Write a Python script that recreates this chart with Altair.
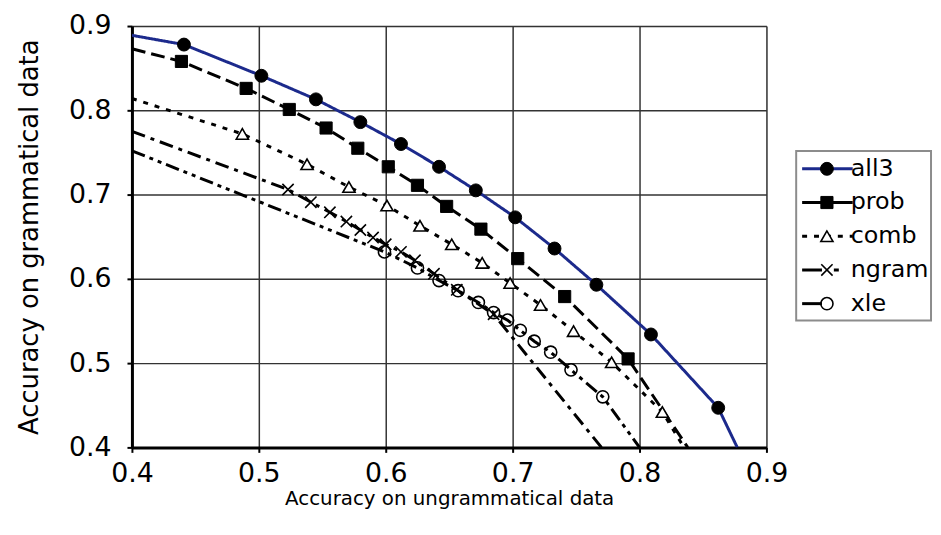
import altair as alt
import pandas as pd

SERIES = ["all3", "prob", "comb", "ngram", "xle"]

ALL3_X = [0.441, 0.502, 0.545, 0.580, 0.612, 0.642, 0.671, 0.702, 0.733, 0.766, 0.809, 0.862]
ALL3_Y = [0.878, 0.841, 0.813, 0.786, 0.760, 0.733, 0.705, 0.673, 0.636, 0.593, 0.534, 0.447]
PROB_X = [0.439, 0.490, 0.524, 0.553, 0.578, 0.602, 0.625, 0.648, 0.675, 0.704, 0.741, 0.791]
PROB_Y = [0.858, 0.826, 0.801, 0.779, 0.755, 0.733, 0.711, 0.686, 0.659, 0.624, 0.579, 0.505]
COMB_X = [0.487, 0.538, 0.571, 0.601, 0.627, 0.652, 0.676, 0.698, 0.722, 0.748, 0.778, 0.818]
COMB_Y = [0.772, 0.736, 0.709, 0.687, 0.663, 0.641, 0.619, 0.595, 0.569, 0.538, 0.501, 0.442]
NGRAM_X = [0.523, 0.541, 0.556, 0.569, 0.580, 0.590, 0.600, 0.612, 0.623, 0.638, 0.656, 0.685]
NGRAM_Y = [0.706, 0.691, 0.679, 0.668, 0.658, 0.649, 0.641, 0.632, 0.622, 0.606, 0.587, 0.558]
XLE_X = [0.599, 0.625, 0.642, 0.657, 0.673, 0.685, 0.696, 0.706, 0.717, 0.730, 0.746, 0.771]
XLE_Y = [0.632, 0.613, 0.598, 0.586, 0.572, 0.560, 0.551, 0.539, 0.526, 0.513, 0.492, 0.460]

# where each curve enters the plot (at x = 0.4) and leaves it (at y = 0.4)
LINE_START_Y = [0.889, 0.873, 0.814, 0.775, 0.752]
LINE_END_X = [0.877, 0.838, 0.835, 0.770, 0.800]

TICKS = [0.4, 0.5, 0.6, 0.7, 0.8, 0.9]

FONT = "DejaVu Sans"
COLORS = ["#1c2a8c", "black", "black", "black", "black"]
DASHES = [[1, 0], [14, 6], [5, 7], [14, 6, 4, 6], [14, 5, 4, 5, 4, 5]]
LEGEND_DASHES = [[1, 0], [1, 0], [5, 7], [20, 12, 5, 20], [20, 40]]

MARKERS = {
    "all3": dict(shape="circle", size=170, filled=True, fill="black", stroke="black", strokeWidth=1),
    "prob": dict(shape="square", size=150, filled=True, fill="black", stroke="black", strokeWidth=1),
    "comb": dict(shape="triangle-up", size=150, filled=True, fill="white", stroke="black", strokeWidth=1.6),
    "ngram": dict(shape="M-1,-1L1,1M-1,1L1,-1", size=130, filled=False, stroke="black", strokeWidth=1.6),
    "xle": dict(shape="circle", size=150, filled=False, stroke="black", strokeWidth=1.6),
}

xs_all = [ALL3_X, PROB_X, COMB_X, NGRAM_X, XLE_X]
ys_all = [ALL3_Y, PROB_Y, COMB_Y, NGRAM_Y, XLE_Y]

line_rows, pt_rows = [], []
for name, xs, ys, y0, x1 in zip(SERIES, xs_all, ys_all, LINE_START_Y, LINE_END_X):
    line_rows.append({"series": name, "x": 0.4, "y": y0})
    for a, b in zip(xs, ys):
        line_rows.append({"series": name, "x": a, "y": b})
        pt_rows.append({"series": name, "x": a, "y": b})
    line_rows.append({"series": name, "x": x1, "y": 0.4})
line_df = pd.DataFrame(line_rows)
pt_df = pd.DataFrame(pt_rows)

color_enc = alt.Color("series:N", scale=alt.Scale(domain=SERIES, range=COLORS), legend=None)
dash_enc = alt.StrokeDash("series:N", scale=alt.Scale(domain=SERIES, range=DASHES), legend=None)

axis_common = dict(
    values=TICKS, format=".1f", labelFontSize=27, labelFont=FONT, titleFont=FONT,
    labelColor="black", titleColor="black", titleFontWeight="normal",
    domainColor="black", domainWidth=3, tickColor="black", tickWidth=2, tickSize=5,
    gridColor="#333333", gridWidth=1.5, labelFlush=False,
)
x_enc = alt.X("x:Q", scale=alt.Scale(domain=[0.4, 0.9], nice=False, zero=False),
              axis=alt.Axis(title="Accuracy on ungrammatical data", titleFontSize=20,
                            labelPadding=8, titlePadding=3, **axis_common))
y_enc = alt.Y("y:Q", scale=alt.Scale(domain=[0.4, 0.9], nice=False, zero=False),
              axis=alt.Axis(title="Accuracy on grammatical data", titleFontSize=26,
                            labelPadding=16, titlePadding=26, **axis_common))

lines = alt.Chart(line_df).mark_line(clip=True, strokeWidth=3, interpolate="linear").encode(
    x=x_enc, y=y_enc, color=color_enc, strokeDash=dash_enc, order=alt.Order("x:Q")
)

layers = [lines]
for name in SERIES:
    layers.append(
        alt.Chart(pt_df).transform_filter(alt.datum.series == name)
        .mark_point(opacity=1, clip=True, **MARKERS[name])
        .encode(x="x:Q", y="y:Q")
    )
main = alt.layer(*layers).properties(width=640, height=425)

# legend panel
LEG_H = 425
ROW0 = 144
ROW_STEP = 34
legend_df = pd.DataFrame({"series": SERIES, "row": list(range(len(SERIES)))})
ly = alt.Y("row:Q", scale=alt.Scale(domain=[(LEG_H - ROW0) / ROW_STEP, -ROW0 / ROW_STEP], nice=False, zero=False), axis=None)

box = alt.Chart(pd.DataFrame({"a": [0]})).mark_rect(fill="white", stroke="#8c8c8c", strokeWidth=2).encode(
    x=alt.value(0), x2=alt.value(136), y=alt.value(126), y2=alt.value(297)
)
leg_layers = [box]
for name, col, dsh in zip(SERIES, COLORS, LEGEND_DASHES):
    leg_layers.append(
        alt.Chart(legend_df).transform_filter(alt.datum.series == name)
        .mark_rule(strokeWidth=3, color=col, strokeDash=dsh)
        .encode(x=alt.value(6), x2=alt.value(57), y=ly)
    )
for name in SERIES:
    leg_layers.append(
        alt.Chart(legend_df).transform_filter(alt.datum.series == name)
        .mark_point(opacity=1, **MARKERS[name])
        .encode(x=alt.value(31), y=ly)
    )
leg_text = alt.Chart(legend_df).mark_text(align="left", baseline="middle", fontSize=24, font=FONT, color="black").encode(
    x=alt.value(55), y=ly, text="series:N"
)
leg_layers.append(leg_text)
legend = alt.layer(*leg_layers).properties(width=136, height=LEG_H, view=alt.ViewBackground(stroke="transparent"))

chart = alt.hconcat(main, legend, spacing=30, bounds="flush").properties(
    padding={"left": 8, "top": 1, "right": 0, "bottom": 5}
).configure_view(stroke="#9a9a9a", strokeWidth=2).configure(font=FONT)

chart.save("out.html", embed_options={"renderer": "svg", "actions": False})
